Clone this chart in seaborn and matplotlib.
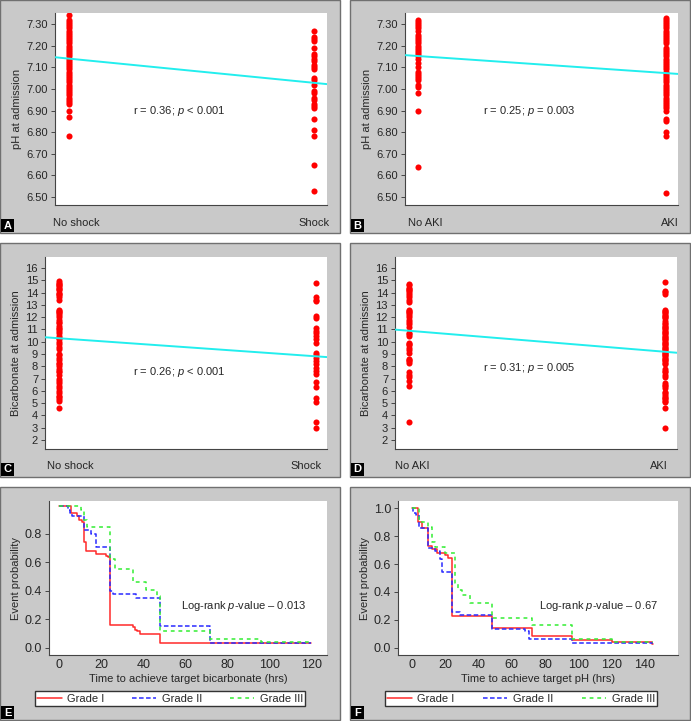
import matplotlib

matplotlib.use("Agg")
import matplotlib.pyplot as plt
import matplotlib.transforms as mtransforms
import pandas as pd
import seaborn as sns
from matplotlib.patches import Rectangle

# --- values ----------------------------------------------------------------
# panel A: pH at admission, no shock / shock
ph_no_shock = [7.34, 7.32, 7.31, 7.30, 7.29, 7.28, 7.27, 7.26, 7.25, 7.24, 7.23, 7.22,
               7.21, 7.20, 7.19, 7.18, 7.17, 7.16, 7.15, 7.14, 7.13, 7.12, 7.11, 7.10,
               7.09, 7.08, 7.07, 7.06, 7.05, 7.04, 7.03, 7.02, 7.01, 7.00, 6.99, 6.98,
               6.97, 6.96, 6.95, 6.94, 6.93, 6.90, 6.87, 6.78]
ph_shock = [7.27, 7.24, 7.23, 7.22, 7.19, 7.16, 7.15, 7.14, 7.13, 7.11, 7.10, 7.09,
            7.05, 7.04, 7.02, 6.99, 6.98, 6.96, 6.95, 6.93, 6.92, 6.91, 6.86, 6.81,
            6.78, 6.65, 6.53]
# panel B: pH at admission, no AKI / AKI
ph_no_aki = [7.32, 7.31, 7.30, 7.29, 7.28, 7.27, 7.25, 7.24, 7.23, 7.22, 7.21, 7.20,
             7.19, 7.18, 7.17, 7.16, 7.15, 7.14, 7.12, 7.10, 7.08, 7.07, 7.06, 7.05,
             7.04, 7.02, 7.01, 6.98, 6.90, 6.64]
ph_aki = [7.33, 7.32, 7.31, 7.30, 7.29, 7.28, 7.27, 7.26, 7.25, 7.24, 7.23, 7.22,
          7.21, 7.19, 7.18, 7.17, 7.16, 7.15, 7.14, 7.13, 7.12, 7.11, 7.10, 7.09,
          7.08, 7.07, 7.06, 7.05, 7.04, 7.03, 7.02, 7.01, 7.00, 6.99, 6.98, 6.97,
          6.96, 6.95, 6.94, 6.93, 6.92, 6.91, 6.90, 6.86, 6.85, 6.80, 6.78, 6.52]
# panel C: bicarbonate at admission, no shock / shock
bic_no_shock = [14.9, 14.8, 14.7, 14.6, 14.5, 14.4, 14.3, 14.2, 14.0, 13.9, 13.8, 13.6,
                13.4, 12.6, 12.5, 12.4, 12.3, 12.2, 12.0, 11.8, 11.6, 11.5, 11.3, 11.1,
                11.0, 10.9, 10.7, 10.5, 10.3, 10.2, 10.0, 9.8, 9.6, 9.4, 9.0, 8.9, 8.7,
                8.5, 8.3, 8.2, 8.0, 7.8, 7.6, 7.5, 7.3, 7.0, 6.8, 6.6, 6.4, 6.2, 6.0,
                5.8, 5.6, 5.5, 5.3, 5.2, 4.6]
bic_shock = [14.8, 13.6, 13.4, 13.3, 12.1, 11.9, 11.1, 10.9, 10.7, 10.5, 10.2, 9.9,
             9.1, 8.9, 8.7, 8.4, 8.2, 7.9, 7.6, 7.4, 6.7, 6.3, 5.4, 5.1, 3.5, 2.95]
# panel D: bicarbonate at admission, no AKI / AKI
bic_no_aki = [14.7, 14.6, 14.4, 14.3, 14.2, 14.1, 14.0, 13.8, 13.6, 13.4, 13.2, 12.6,
              12.5, 12.4, 12.3, 12.2, 12.0, 11.8, 11.6, 11.4, 11.2, 10.7, 10.6, 10.5,
              9.9, 9.8, 9.7, 9.5, 9.3, 9.1, 8.6, 8.5, 8.4, 8.3, 7.5, 7.3, 7.1, 6.8,
              6.4, 3.5]
bic_aki = [14.85, 14.15, 14.05, 13.9, 12.6, 12.5, 12.4, 12.3, 12.2, 12.1, 12.0, 11.9,
           11.7, 11.5, 11.4, 11.3, 11.2, 11.1, 11.0, 10.9, 10.8, 10.7, 10.6, 10.5,
           10.4, 10.3, 10.2, 10.1, 10.0, 9.9, 9.8, 9.7, 9.6, 9.5, 9.4, 9.3, 9.2, 9.1,
           9.0, 8.9, 8.8, 8.7, 8.6, 8.5, 8.4, 8.3, 8.2, 7.8, 7.6, 7.5, 7.3, 7.1, 6.6,
           6.5, 6.4, 6.2, 5.9, 5.8, 5.7, 5.5, 5.4, 5.3, 5.2, 5.1, 4.6, 3.0]

# fitted line value at the two categories (x = 0 and x = 1)
fit_a = [7.140, 7.028]
fit_b = [7.152, 7.073]
fit_c = [10.28, 8.81]
fit_d = [10.89, 9.18]

# panel E: time to target bicarbonate (hrs), by grade
e_t1 = [0, 5.6, 8.3, 9.6, 10.8, 11.6, 12.8, 17.5, 22.3, 23.1, 24, 35.1, 35.9, 37.2, 38.3, 48, 120]
e_s1 = [0.994, 0.947, 0.923, 0.900, 0.883, 0.740, 0.677, 0.658, 0.646, 0.634, 0.156, 0.142,
        0.125, 0.114, 0.095, 0.030, 0.030]
e_t2 = [0, 4.0, 5.3, 6.0, 11.6, 15.2, 17.5, 24, 25.5, 36.7, 48, 72, 120]
e_s2 = [0.994, 0.970, 0.945, 0.923, 0.824, 0.800, 0.705, 0.398, 0.374, 0.350, 0.149, 0.030, 0.030]
e_t3 = [0, 10.4, 11.6, 13.1, 24, 26.3, 35.1, 41.5, 46.3, 48, 72, 96, 120]
e_s3 = [0.994, 0.966, 0.895, 0.847, 0.622, 0.551, 0.462, 0.402, 0.360, 0.118, 0.062, 0.040, 0.040]

# panel F: time to target pH (hrs), by grade
f_t1 = [0, 4, 6.4, 10, 12.4, 15, 20, 21.6, 24, 48, 72, 96, 120, 144, 145]
f_s1 = [1.0, 0.899, 0.858, 0.730, 0.706, 0.682, 0.665, 0.641, 0.224, 0.140, 0.080, 0.055,
        0.039, 0.024, 0.024]
f_t2 = [0, 1, 2.6, 4.4, 10, 14, 17, 18, 24, 29, 48, 68, 70.4, 96, 145]
f_s2 = [1.0, 0.964, 0.950, 0.860, 0.713, 0.694, 0.634, 0.545, 0.255, 0.231, 0.135, 0.116,
        0.063, 0.031, 0.031]
f_t3 = [0, 4.4, 10, 12.4, 14, 20, 26, 28, 30, 35, 48, 72, 96, 120, 145]
f_s3 = [1.0, 0.899, 0.863, 0.760, 0.720, 0.680, 0.465, 0.417, 0.380, 0.320, 0.212, 0.164,
        0.063, 0.043, 0.043]

grade_labels = ["Grade I", "Grade II", "Grade III"]

# --- styling -----------------------------------------------------------------
W, H = 691, 721
PANEL_GRAY = "#C9C9C9"
DOT_RED = "#FF0000"
LINE_CYAN = "#22EEEE"
KM_STYLES = [("#FF2A2A", "-"), ("#2A2AFF", (0, (3, 1.6))), ("#33EE33", (0, (2.5, 2.5)))]

sns.set_style("white")
plt.rcParams["font.family"] = ["Liberation Sans", "DejaVu Sans"]
plt.rcParams["mathtext.fontset"] = "custom"
plt.rcParams["mathtext.rm"] = "Liberation Sans"
plt.rcParams["mathtext.it"] = "Liberation Sans:italic"


def px_box(x0, y0, x1, y1):
    # pixel box (top-left origin) -> figure fraction [left, bottom, w, h]
    return [x0 / W, 1 - y1 / H, (x1 - x0) / W, (y1 - y0) / H]


def draw_panel_frame(fig, box, letter):
    x0, y0, x1, y1 = box
    fig.add_artist(Rectangle((x0 / W, 1 - y1 / H), (x1 - x0) / W, (y1 - y0) / H,
                             transform=fig.transFigure, facecolor=PANEL_GRAY,
                             edgecolor="#707070", lw=1.0, zorder=-5))
    fig.add_artist(Rectangle(((x0 + 1) / W, 1 - (y1 - 1) / H), 13 / W, 13 / H,
                             transform=fig.transFigure, facecolor="black",
                             edgecolor="none", zorder=5))
    fig.text((x0 + 7.5) / W, 1 - (y1 - 7.5) / H, letter, color="white", fontsize=8,
             fontweight="bold", ha="center", va="center", zorder=6)


def style_axes(ax, tick_size=8):
    ax.set_facecolor("white")
    for side in ("top", "right"):
        ax.spines[side].set_visible(False)
    for side in ("left", "bottom"):
        ax.spines[side].set_color("#444444")
        ax.spines[side].set_linewidth(0.8)
    ax.tick_params(axis="y", left=True, length=3, width=0.7, color="#444444",
                   labelsize=tick_size, pad=2)


def scatter_panel(fig, box, groups, left_vals, right_vals, fit, xlim, ylim,
                  yticks, fmt, ylabel, note, note_xy, label_shift):
    ax = fig.add_axes(px_box(*box))
    df = pd.DataFrame({
        "group": [groups[0]] * len(left_vals) + [groups[1]] * len(right_vals),
        "value": left_vals + right_vals,
    })
    sns.stripplot(data=df, x="group", y="value", order=groups, jitter=False,
                  color=DOT_RED, size=4.4, linewidth=0, ax=ax, zorder=3)
    ax.axline((0, fit[0]), (1, fit[1]), color=LINE_CYAN, lw=1.4, zorder=4)
    ax.set_xlim(*xlim)
    ax.set_ylim(*ylim)
    ax.set_yticks(yticks)
    ax.set_yticklabels([fmt.format(v) for v in yticks])
    ax.set_xlabel("")
    ax.set_ylabel(ylabel, fontsize=8, labelpad=3)
    style_axes(ax)
    ax.tick_params(axis="x", length=0, labelsize=8, pad=9)
    # category labels sit a little off the dot columns in the original
    for lab, dx in zip(ax.get_xticklabels(), label_shift):
        lab.set_transform(lab.get_transform()
                          + mtransforms.ScaledTranslation(dx / 100, 0, fig.dpi_scale_trans))
    ax.text(note_xy[0], note_xy[1], note, fontsize=8, ha="center", va="center")
    return ax


def km_panel(fig, box, curves, xlim, ylim, xticks, yticks, xlabel, note, note_xy, legend_box):
    ax = fig.add_axes(px_box(*box))
    for (t, s), (color, ls), label in zip(curves, KM_STYLES, grade_labels):
        sns.lineplot(x=t, y=s, drawstyle="steps-post", estimator=None, color=color,
                     linestyle=ls, lw=1.1, label=label, ax=ax, legend=False)
    ax.set_xlim(*xlim)
    ax.set_ylim(*ylim)
    ax.set_xticks(xticks)
    ax.set_yticks(yticks)
    ax.set_yticklabels([f"{v:.1f}" for v in yticks])
    style_axes(ax, tick_size=9)
    ax.tick_params(axis="x", length=0, labelsize=9, pad=3)
    ax.set_xlabel(xlabel, fontsize=8, labelpad=2)
    ax.set_ylabel("Event probability", fontsize=8, labelpad=3)
    ax.text(note_xy[0], note_xy[1], note, fontsize=8, ha="center", va="center")
    handles, labels = ax.get_legend_handles_labels()
    x0, y0, x1, y1 = legend_box
    ax.legend(handles, labels, loc="center", ncol=3, mode="expand",
              bbox_to_anchor=(x0 / W, 1 - y1 / H, (x1 - x0) / W, (y1 - y0) / H),
              bbox_transform=fig.transFigure, fontsize=8, frameon=True, fancybox=False,
              edgecolor="#333333", framealpha=1, handlelength=2.2, borderpad=0.2,
              handletextpad=0.5, borderaxespad=0)
    return ax


fig = plt.figure(figsize=(W / 100, H / 100), dpi=100, facecolor="white")

panels = {
    "A": (0, 0, 340, 233), "B": (350, 0, 690, 233),
    "C": (0, 243, 340, 477), "D": (350, 243, 690, 477),
    "E": (0, 487, 340, 720), "F": (350, 487, 690, 720),
}
for letter, box in panels.items():
    draw_panel_frame(fig, box, letter)

ph_ticks = [6.5, 6.6, 6.7, 6.8, 6.9, 7.0, 7.1, 7.2, 7.3]
bic_ticks = list(range(2, 17))

scatter_panel(fig, (55, 13, 327, 205), ["No shock", "Shock"], ph_no_shock, ph_shock,
              fit_a, (-0.057, 1.053), (6.463, 7.351), ph_ticks, "{:.2f}",
              "pH at admission", "r = 0.36; $p$ < 0.001", (0.45, 6.90), (7, 0))
scatter_panel(fig, (405, 13, 678, 205), ["No AKI", "AKI"], ph_no_aki, ph_aki,
              fit_b, (-0.052, 1.048), (6.463, 7.351), ph_ticks, "{:.2f}",
              "pH at admission", "r = 0.25; $p$ = 0.003", (0.45, 6.90), (7, 4))
scatter_panel(fig, (45, 257, 327, 449), ["No shock", "Shock"], bic_no_shock, bic_shock,
              fit_c, (-0.054, 1.043), (1.27, 16.89), bic_ticks, "{:d}",
              "Bicarbonate at admission", "r = 0.26; $p$ < 0.001", (0.47, 7.5), (11, -10))
scatter_panel(fig, (395, 257, 677, 449), ["No AKI", "AKI"], bic_no_aki, bic_aki,
              fit_d, (-0.054, 1.047), (1.27, 16.89), bic_ticks, "{:d}",
              "Bicarbonate at admission", "r = 0.31; $p$ = 0.005", (0.47, 7.9), (3, -6))

km_panel(fig, (49, 501, 327, 655), [(e_t1, e_s1), (e_t2, e_s2), (e_t3, e_s3)],
         (-4.9, 127.5), (-0.052, 1.03), [0, 20, 40, 60, 80, 100, 120],
         [0.0, 0.2, 0.4, 0.6, 0.8], "Time to achieve target bicarbonate (hrs)",
         "Log-rank $p$-value \u2013 0.013", (88, 0.29), (35, 690, 305, 707))
km_panel(fig, (398, 501, 678, 655), [(f_t1, f_s1), (f_t2, f_s2), (f_t3, f_s3)],
         (-8.2, 159.8), (-0.053, 1.053), [0, 20, 40, 60, 80, 100, 120, 140],
         [0.0, 0.2, 0.4, 0.6, 0.8, 1.0], "Time to achieve target pH (hrs)",
         "Log-rank $p$-value \u2013 0.67", (112, 0.296), (385, 690, 657, 707))

fig.savefig("out.png", dpi=100, facecolor="white")
